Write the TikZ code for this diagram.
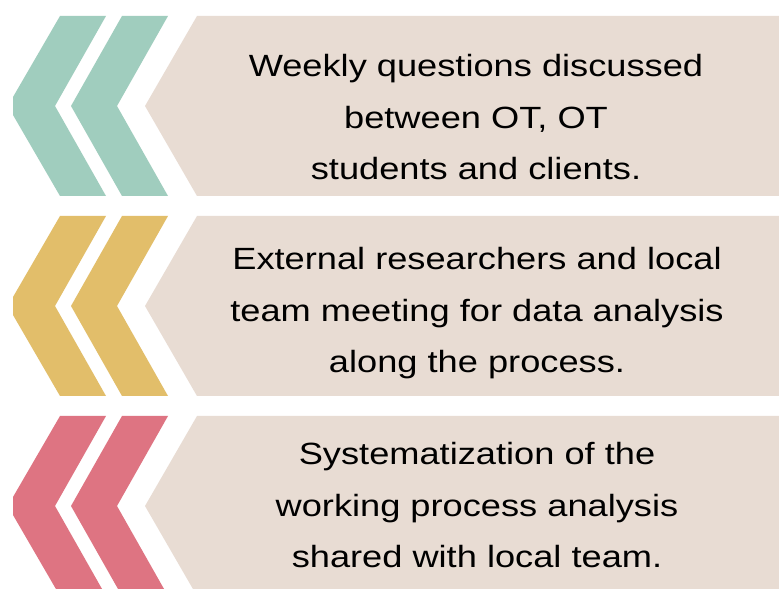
\documentclass[tikz,border=0pt]{standalone}
\usepackage{fontspec}
\setmainfont{Liberation Sans}
\usepackage{graphicx}
\definecolor{tealc}{HTML}{A0CDBE}
\definecolor{goldc}{HTML}{E2BE6A}
\definecolor{pinkc}{HTML}{DE7482}
\definecolor{beigec}{HTML}{E8DCD3}
\newcommand{\rowtext}[3]{\scalebox{1.18}[1]{\fontsize{30.7}{51.5}\selectfont\begin{tabular}[t]{@{}c@{}}#1\\#2\\#3\end{tabular}}}
\tikzset{
  lbl/.style={inner sep=0pt, anchor=base, text=black},
}
\begin{document}
\begin{tikzpicture}[x=1pt,y=1pt]
\useasboundingbox (0,0) rectangle (779,589);
\clip (0,0) rectangle (779,589);
\fill[white] (0,0) rectangle (779,589);
\foreach \cy/\col in {483/tealc, 283/goldc, 83/pinkc}{
  % first chevron (cut at x=13)
  \fill[\col] (60,\cy+90) -- (106,\cy+90) -- (55,\cy) -- (106,\cy-90) -- (60,\cy-90)
     -- (13,\cy-9) -- (13,\cy+9) -- cycle;
  % second chevron
  \fill[\col] (122,\cy+90) -- (168,\cy+90) -- (117,\cy) -- (168,\cy-90) -- (122,\cy-90) -- (71,\cy) -- cycle;
  % beige pentagon
  \fill[beigec] (197,\cy+90) -- (779,\cy+90) -- (779,\cy-90) -- (197,\cy-90) -- (145,\cy) -- cycle;
}
\node[lbl] (t1) at (476,512) {\rowtext{Weekly questions discussed}{between OT, OT}{students and clients.}};
\node[lbl] (t2) at (477,319) {\rowtext{External researchers and local}{team meeting for data analysis}{along the process.}};
\node[lbl] (t3) at (477,124) {\rowtext{Systematization of the}{working process analysis}{shared with local team.}};
\end{tikzpicture}
\end{document}
